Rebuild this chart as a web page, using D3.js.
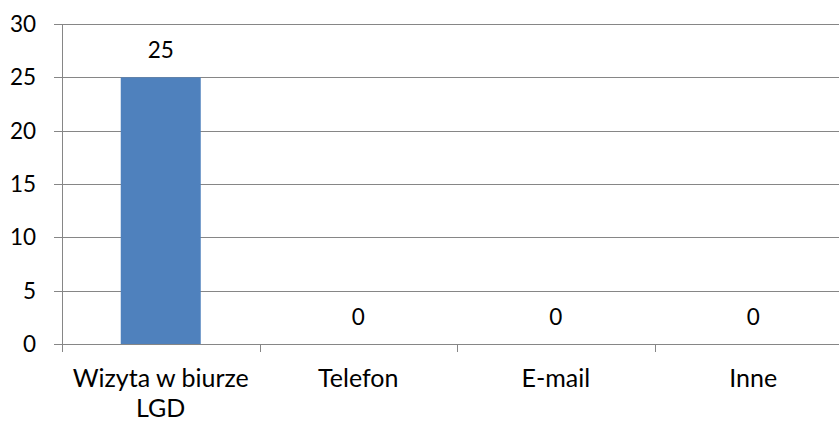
<!DOCTYPE html>
<html>
<head>
<meta charset="utf-8">
<script src="https://cdn.jsdelivr.net/npm/d3@7"></script>
<style>
html,body{margin:0;padding:0;background:#fff;overflow:hidden;}
svg{display:block;}
text{font-family:Lato,"Open Sans",sans-serif;fill:#000;}
</style>
</head>
<body>
<svg id="chart" width="839" height="421"></svg>
<script>
const categories = [["Wizyta w biurze","LGD"],["Telefon"],["E-mail"],["Inne"]];
const values = [25, 0, 0, 0];
const yTicks = [0, 5, 10, 15, 20, 25, 30];

(function(){
const svg = d3.select("#chart");
const mLeft = 62, mRight = 852, mTop = 24, mBottom = 344;
const gridColor = "#868686";
const fsNum = "22.5px";
const fsCat = "25px";

const x = d3.scaleBand().domain(d3.range(categories.length)).range([mLeft, mRight]).paddingInner(0).paddingOuter(0);
const y = d3.scaleLinear().domain([0, 30]).range([mBottom, mTop]);

// gridlines
svg.append("g").selectAll("line").data(yTicks).join("line")
  .attr("x1", mLeft - 8).attr("x2", mRight)
  .attr("y1", d => Math.round(y(d)) + 0.5).attr("y2", d => Math.round(y(d)) + 0.5)
  .attr("stroke", gridColor).attr("stroke-width", 1);

// y axis line
svg.append("line").attr("x1", mLeft + 0.5).attr("x2", mLeft + 0.5)
  .attr("y1", mTop).attr("y2", mBottom + 0.5).attr("stroke", gridColor);

// y labels
svg.append("g").selectAll("text").data(yTicks).join("text")
  .attr("x", 36).attr("y", d => y(d)).attr("dy", "0.35em")
  .attr("text-anchor", "end").style("font-size", fsNum).text(d => d);

// x ticks at category boundaries
const bounds = d3.range(categories.length).map(i => x(i));
svg.append("g").selectAll("line").data(bounds).join("line")
  .attr("x1", d => Math.round(d) + 0.5).attr("x2", d => Math.round(d) + 0.5)
  .attr("y1", mBottom).attr("y2", mBottom + 8).attr("stroke", gridColor);

// bars
const barW = 80;
svg.append("g").selectAll("rect").data(values).join("rect")
  .attr("x", (d, i) => x(i) + x.bandwidth() / 2 - barW / 2)
  .attr("width", barW)
  .attr("y", d => y(d)).attr("height", d => mBottom - y(d))
  .attr("fill", "#4F81BD");

// value labels
svg.append("g").selectAll("text").data(values).join("text")
  .attr("x", (d, i) => x(i) + x.bandwidth() / 2)
  .attr("y", d => y(d) - 19)
  .attr("text-anchor", "middle").style("font-size", fsNum).text(d => d);

// category labels
const cl = svg.append("g").selectAll("text").data(categories).join("text")
  .attr("x", (d, i) => x(i) + x.bandwidth() / 2)
  .attr("y", 387).attr("text-anchor", "middle").style("font-size", fsCat);
cl.each(function(d, i) {
  const t = d3.select(this);
  d.forEach((line, j) => {
    t.append("tspan").attr("x", x(i) + x.bandwidth() / 2).attr("dy", j === 0 ? 0 : 30).text(line);
  });
});
})();
</script>
</body>
</html>
